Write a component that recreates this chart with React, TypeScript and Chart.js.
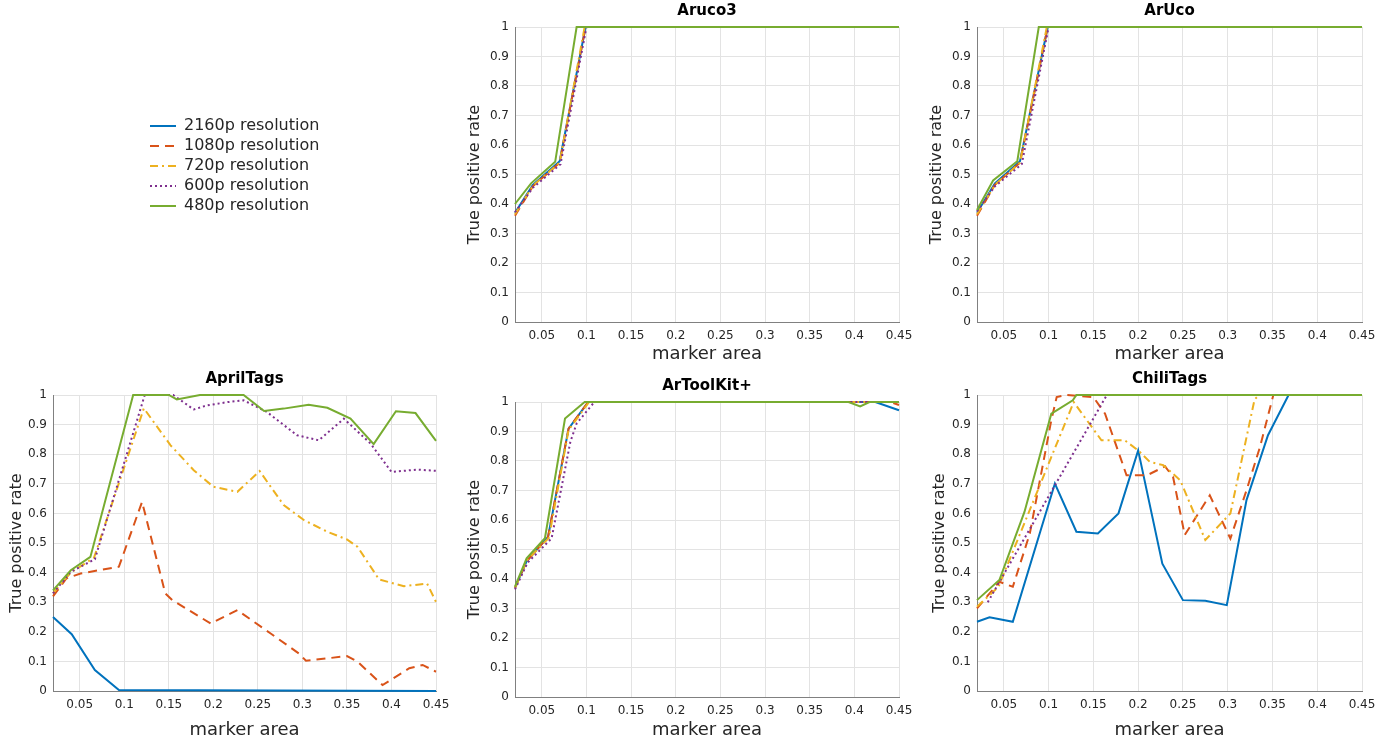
import React, { useEffect, useRef } from "react";
import { Chart, registerables } from "chart.js";

Chart.register(...registerables);
Chart.defaults.font.family = "'DejaVu Sans', 'Liberation Sans', sans-serif";

// ---- series meta ----
const SERIES_LABELS = ["2160p resolution", "1080p resolution", "720p resolution", "600p resolution", "480p resolution"];
const SERIES_COLORS = ["#0072BD", "#D95319", "#EDB120", "#7E2F8E", "#77AC30"];
const SERIES_DASH: number[][] = [[], [9, 6], [8, 4, 2, 4], [2, 3], []];

// ---- axes ----
const X_MIN = 0.02;
const X_MAX = 0.45;
const X_TICKS = [0.05, 0.1, 0.15, 0.2, 0.25, 0.3, 0.35, 0.4, 0.45];
const X_TICK_LABELS = ["0.05", "0.1", "0.15", "0.2", "0.25", "0.3", "0.35", "0.4", "0.45"];
const Y_TICKS = [0, 0.1, 0.2, 0.3, 0.4, 0.5, 0.6, 0.7, 0.8, 0.9, 1];
const Y_TICK_LABELS = ["0", "0.1", "0.2", "0.3", "0.4", "0.5", "0.6", "0.7", "0.8", "0.9", "1"];

// ---- Aruco3 ([marker area, true positive rate]) ----
const ARUCO3_2160 = [[0.02, 0.37], [0.04, 0.465], [0.07, 0.545], [0.099, 1], [0.45, 1]];
const ARUCO3_1080 = [[0.02, 0.36], [0.04, 0.46], [0.07, 0.54], [0.099, 1], [0.45, 1]];
const ARUCO3_720 = [[0.02, 0.365], [0.04, 0.462], [0.07, 0.54], [0.098, 1], [0.45, 1]];
const ARUCO3_600 = [[0.02, 0.372], [0.04, 0.455], [0.071, 0.535], [0.1, 1], [0.45, 1]];
const ARUCO3_480 = [[0.02, 0.4], [0.038, 0.47], [0.065, 0.543], [0.089, 1], [0.45, 1]];

// ---- ArUco ----
const ARUCO_2160 = [[0.02, 0.37], [0.04, 0.47], [0.068, 0.545], [0.099, 1], [0.45, 1]];
const ARUCO_1080 = [[0.02, 0.36], [0.04, 0.465], [0.068, 0.54], [0.099, 1], [0.45, 1]];
const ARUCO_720 = [[0.02, 0.365], [0.04, 0.465], [0.068, 0.54], [0.098, 1], [0.45, 1]];
const ARUCO_600 = [[0.02, 0.375], [0.04, 0.46], [0.07, 0.535], [0.1, 1], [0.45, 1]];
const ARUCO_480 = [[0.02, 0.38], [0.038, 0.48], [0.065, 0.545], [0.089, 1], [0.45, 1]];

// ---- AprilTags ----
const APRIL_2160 = [[0.02, 0.25], [0.041, 0.192], [0.067, 0.071], [0.094, 0.003], [0.45, 0]];
const APRIL_1080 = [[0.02, 0.32], [0.035, 0.38], [0.051, 0.397], [0.094, 0.42], [0.12, 0.639], [0.146, 0.33], [0.154, 0.307], [0.197, 0.228], [0.227, 0.273], [0.264, 0.195], [0.296, 0.127], [0.304, 0.102], [0.35, 0.118], [0.362, 0.099], [0.39, 0.02], [0.42, 0.077], [0.435, 0.088], [0.45, 0.065]];
const APRIL_720 = [[0.02, 0.33], [0.04, 0.4], [0.066, 0.45], [0.122, 0.955], [0.152, 0.83], [0.178, 0.746], [0.2, 0.69], [0.227, 0.673], [0.252, 0.743], [0.279, 0.628], [0.302, 0.577], [0.328, 0.538], [0.35, 0.512], [0.362, 0.487], [0.386, 0.377], [0.414, 0.354], [0.44, 0.363], [0.45, 0.301]];
const APRIL_600 = [[0.02, 0.33], [0.04, 0.403], [0.067, 0.445], [0.123, 1], [0.155, 1], [0.178, 0.951], [0.193, 0.965], [0.216, 0.976], [0.234, 0.982], [0.26, 0.943], [0.294, 0.864], [0.3185, 0.847], [0.3465, 0.92], [0.3765, 0.836], [0.4, 0.74], [0.429, 0.748], [0.45, 0.744]];
const APRIL_480 = [[0.02, 0.34], [0.04, 0.408], [0.062, 0.453], [0.11, 1], [0.15, 1], [0.159, 0.985], [0.185, 1], [0.234, 1], [0.257, 0.946], [0.279, 0.954], [0.307, 0.967], [0.328, 0.957], [0.354, 0.92], [0.38, 0.834], [0.405, 0.945], [0.427, 0.939], [0.45, 0.845]];

// ---- ArToolKit+ ----
const ATK_2160 = [[0.02, 0.37], [0.033, 0.46], [0.057, 0.543], [0.08, 0.91], [0.102, 1], [0.39, 1], [0.4235, 1], [0.45, 0.972]];
const ATK_1080 = [[0.02, 0.37], [0.033, 0.46], [0.057, 0.543], [0.08, 0.91], [0.102, 1], [0.44, 1], [0.45, 0.99]];
const ATK_720 = [[0.02, 0.37], [0.033, 0.462], [0.058, 0.54], [0.08, 0.905], [0.103, 1], [0.45, 1]];
const ATK_600 = [[0.02, 0.365], [0.034, 0.455], [0.061, 0.538], [0.082, 0.865], [0.089, 0.927], [0.1075, 0.995], [0.11, 1], [0.45, 1]];
const ATK_480 = [[0.02, 0.374], [0.033, 0.47], [0.0535, 0.538], [0.076, 0.944], [0.098, 1], [0.3935, 1], [0.4065, 0.985], [0.417, 1], [0.45, 1]];

// ---- ChiliTags ----
const CHILI_2160 = [[0.02, 0.234], [0.034, 0.249], [0.06, 0.234], [0.107, 0.701], [0.131, 0.538], [0.155, 0.532], [0.178, 0.6], [0.2, 0.813], [0.227, 0.43], [0.25, 0.307], [0.275, 0.305], [0.299, 0.29], [0.321, 0.645], [0.345, 0.864], [0.368, 1], [0.45, 1]];
const CHILI_1080 = [[0.02, 0.279], [0.045, 0.369], [0.06, 0.352], [0.079, 0.532], [0.103, 0.915], [0.109, 0.993], [0.12, 1], [0.15, 0.993], [0.163, 0.937], [0.18, 0.79], [0.187, 0.729], [0.21, 0.729], [0.23, 0.759], [0.239, 0.723], [0.252, 0.527], [0.28, 0.661], [0.303, 0.515], [0.321, 0.678], [0.336, 0.824], [0.351, 1], [0.45, 1]];
const CHILI_720 = [[0.02, 0.285], [0.044, 0.352], [0.128, 0.976], [0.159, 0.847], [0.185, 0.847], [0.2, 0.813], [0.213, 0.774], [0.228, 0.763], [0.247, 0.712], [0.275, 0.51], [0.303, 0.6], [0.33, 0.985], [0.335, 1], [0.45, 1]];
const CHILI_600 = [[0.032, 0.3], [0.165, 1], [0.45, 1]];
const CHILI_480 = [[0.02, 0.307], [0.045, 0.375], [0.073, 0.605], [0.103, 0.937], [0.109, 0.948], [0.127, 0.982], [0.131, 1], [0.45, 1]];

const GRID_COLOR = "#e3e3e3";
const AXIS_COLOR = "#808080";
const TEXT_COLOR = "#262626";

const YW = 50; // y-axis box width
const RW = 50; // right spacer width
const TH = 32; // title block height
const XH = 55; // x-axis box height

type PanelProps = {
  title: string;
  series: number[][][];
  L: number;
  R: number;
  T: number;
  B: number;
  xTitleGap: number;
  yTitleGap: number;
};

function Panel({ title, series, L, R, T, B, xTitleGap, yTitleGap }: PanelProps) {
  const ref = useRef<HTMLCanvasElement>(null);
  const w = R - L + YW + RW;
  const h = B - T + TH + XH;
  useEffect(() => {
    const chart = new Chart(ref.current as HTMLCanvasElement, {
      type: "line",
      data: {
        datasets: series.map((pts, i) => ({
          label: SERIES_LABELS[i],
          data: pts.map(([x, y]) => ({ x, y })),
          borderColor: SERIES_COLORS[i],
          backgroundColor: SERIES_COLORS[i],
          borderWidth: 2,
          borderDash: SERIES_DASH[i],
          pointRadius: 0,
          tension: 0,
          fill: false,
          order: 4 - i,
          clip: 4,
        })),
      },
      options: {
        responsive: false,
        animation: false,
        events: [],
        layout: { padding: 0 },
        plugins: {
          legend: { display: false },
          tooltip: { enabled: false },
          title: {
            display: true,
            text: title,
            color: "#000",
            font: { size: 15, weight: "bold" },
            padding: { top: 7, bottom: 7 },
          },
        },
        scales: {
          x: {
            type: "linear",
            position: "bottom",
            min: X_MIN,
            max: X_MAX,
            afterBuildTicks: (s: any) => {
              s.ticks = X_TICKS.map((v) => ({ value: v }));
            },
            afterFit: (s: any) => {
              s.height = XH;
              s.paddingLeft = 0;
              s.paddingRight = 0;
            },
            ticks: {
              autoSkip: false,
              maxRotation: 0,
              padding: 7,
              color: TEXT_COLOR,
              font: { size: 12 },
              callback: (_v: any, i: number) => X_TICK_LABELS[i],
            },
            grid: { color: GRID_COLOR, drawTicks: false },
            border: { display: true, color: AXIS_COLOR, width: 1 },
            title: {
              display: true,
              text: "marker area",
              color: TEXT_COLOR,
              font: { size: 18 },
              padding: { top: 0, bottom: Math.max(0, XH - xTitleGap - 10.8) },
            },
          },
          y: {
            type: "linear",
            position: "left",
            min: 0,
            max: 1,
            afterBuildTicks: (s: any) => {
              s.ticks = Y_TICKS.map((v) => ({ value: v }));
            },
            afterFit: (s: any) => {
              s.width = YW;
              s.paddingTop = 0;
              s.paddingBottom = 0;
            },
            ticks: {
              autoSkip: false,
              padding: 6,
              color: TEXT_COLOR,
              font: { size: 12 },
              callback: (_v: any, i: number) => Y_TICK_LABELS[i],
            },
            grid: { color: GRID_COLOR, drawTicks: false },
            border: { display: true, color: AXIS_COLOR, width: 1 },
            title: {
              display: true,
              text: "True positive rate",
              color: TEXT_COLOR,
              font: { size: 16 },
              padding: { top: Math.max(0, YW - yTitleGap - 9.6), bottom: 0 },
            },
          },
          yr: {
            type: "linear",
            position: "right",
            display: true,
            grid: { display: false },
            ticks: { display: false },
            border: { display: false },
            afterFit: (s: any) => {
              s.width = RW;
            },
          },
        },
      } as any,
    });
    return () => chart.destroy();
  }, []);
  return (
    <canvas
      ref={ref}
      width={w}
      height={h}
      style={{ position: "absolute", left: L - YW, top: T - TH, width: w, height: h }}
    />
  );
}

function LegendBox() {
  const ref = useRef<HTMLCanvasElement>(null);
  useEffect(() => {
    const chart = new Chart(ref.current as HTMLCanvasElement, {
      type: "line",
      data: {
        datasets: SERIES_LABELS.map((label, i) => ({
          label,
          data: [],
          borderColor: SERIES_COLORS[i],
          backgroundColor: SERIES_COLORS[i],
          borderWidth: 2,
          borderDash: SERIES_DASH[i],
          pointRadius: 0,
        })),
      },
      options: {
        responsive: false,
        animation: false,
        events: [],
        layout: { padding: 0 },
        scales: { x: { display: false }, y: { display: false } },
        plugins: {
          tooltip: { enabled: false },
          legend: {
            display: true,
            position: "left",
            align: "start",
            labels: {
              usePointStyle: true,
              pointStyle: "line",
              pointStyleWidth: 26,
              padding: 4,
              color: TEXT_COLOR,
              font: { size: 16 },
              generateLabels: (c: any) =>
                c.data.datasets.map((ds: any, i: number) => ({
                  text: ds.label,
                  fillStyle: ds.borderColor,
                  strokeStyle: ds.borderColor,
                  fontColor: TEXT_COLOR,
                  lineWidth: 2,
                  lineDash: ds.borderDash,
                  lineCap: "butt",
                  pointStyle: "line",
                  hidden: false,
                  datasetIndex: i,
                })),
            },
          },
        },
      } as any,
    });
    return () => chart.destroy();
  }, []);
  return (
    <canvas
      ref={ref}
      width={400}
      height={120}
      style={{ position: "absolute", left: 146, top: 114, width: 400, height: 120 }}
    />
  );
}

export default function App() {
  return (
    <div
      style={{
        position: "absolute",
        left: 0,
        top: 0,
        width: 1400,
        height: 744,
        overflow: "hidden",
        background: "#fff",
      }}
    >
      <Panel title="Aruco3" series={[ARUCO3_2160, ARUCO3_1080, ARUCO3_720, ARUCO3_600, ARUCO3_480]} L={515} R={899} T={27} B={322} xTitleGap={32} yTitleGap={40} />
      <Panel title="ArUco" series={[ARUCO_2160, ARUCO_1080, ARUCO_720, ARUCO_600, ARUCO_480]} L={977} R={1362} T={27} B={322} xTitleGap={32} yTitleGap={40} />
      <Panel title="AprilTags" series={[APRIL_2160, APRIL_1080, APRIL_720, APRIL_600, APRIL_480]} L={53} R={436} T={395} B={691} xTitleGap={39} yTitleGap={36} />
      <Panel title="ArToolKit+" series={[ATK_2160, ATK_1080, ATK_720, ATK_600, ATK_480]} L={515} R={899} T={402} B={697} xTitleGap={33} yTitleGap={40} />
      <Panel title="ChiliTags" series={[CHILI_2160, CHILI_1080, CHILI_720, CHILI_600, CHILI_480]} L={977} R={1362} T={395} B={691} xTitleGap={39} yTitleGap={37} />
      <LegendBox />
    </div>
  );
}
